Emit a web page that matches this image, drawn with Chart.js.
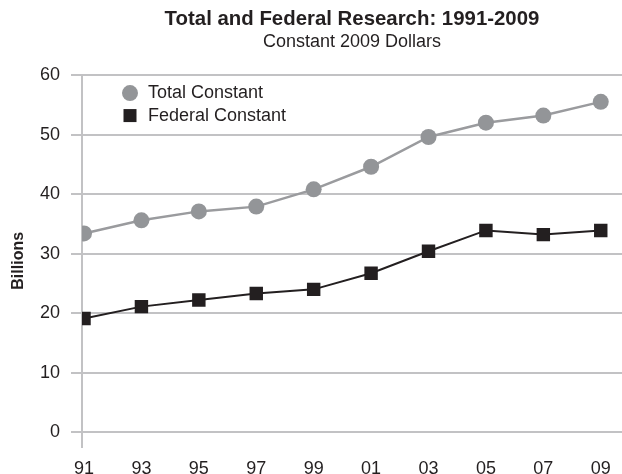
<!DOCTYPE html>
<html>
<head>
<meta charset="utf-8">
<title>Total and Federal Research: 1991-2009</title>
<script src="https://cdn.jsdelivr.net/npm/chart.js@4.4.0/dist/chart.umd.min.js"></script>
<style>
  html, body { margin: 0; padding: 0; background: #fff; }
  #chart { display: block; }
</style>
</head>
<body>
<canvas id="chart" width="622" height="474"></canvas>
<script>
// Fiscal years shown on the x axis
const years = ['91', '93', '95', '97', '99', '01', '03', '05', '07', '09'];
// Billions of constant 2009 dollars
const totalConstant = [33.4, 35.6, 37.1, 37.9, 40.8, 44.6, 49.6, 52.0, 53.2, 55.5];
const federalConstant = [19.1, 21.1, 22.2, 23.3, 24.0, 26.7, 30.4, 33.9, 33.2, 33.9];
const yTicks = [0, 10, 20, 30, 40, 50, 60];

const FONT = "'Liberation Sans', Arial, Helvetica, sans-serif";
const INK = '#231f20';
const GRID = '#c2c2c4';

const toPoints = values => values.map((v, i) => ({ x: i, y: v }));

// Small legend drawn inside the plot, top-left corner
const insideLegend = {
  id: 'insideLegend',
  afterDraw(chart) {
    const { ctx, chartArea } = chart;
    const x = chartArea.left + 48;
    chart.data.datasets.forEach((ds, i) => {
      const y = chartArea.top + 18 + i * 22.5;
      ctx.save();
      ctx.fillStyle = ds.pointBackgroundColor;
      if (ds.pointStyle === 'circle') {
        ctx.beginPath();
        ctx.arc(x, y, 8, 0, Math.PI * 2);
        ctx.fill();
      } else {
        ctx.fillRect(x - 6.5, y - 6.5, 13, 13);
      }
      ctx.fillStyle = INK;
      ctx.font = '18px ' + FONT;
      ctx.textBaseline = 'middle';
      ctx.fillText(ds.label, x + 18, y);
      ctx.restore();
    });
  }
};

new Chart(document.getElementById('chart'), {
  type: 'line',
  data: {
    datasets: [
      {
        label: 'Total Constant',
        data: toPoints(totalConstant),
        borderColor: '#9a9b9e',
        borderWidth: 2.5,
        pointStyle: 'circle',
        pointRadius: 8,
        pointBackgroundColor: '#939598',
        pointBorderWidth: 0,
        tension: 0
      },
      {
        label: 'Federal Constant',
        data: toPoints(federalConstant),
        borderColor: INK,
        borderWidth: 2,
        pointStyle: 'rect',
        pointRadius: 9.5,
        pointBackgroundColor: INK,
        pointBorderWidth: 0,
        tension: 0
      }
    ]
  },
  options: {
    responsive: false,
    animation: false,
    layout: { autoPadding: false, padding: 0 },
    plugins: {
      legend: { display: false },
      tooltip: { enabled: false },
      title: {
        display: true,
        text: 'Total and Federal Research: 1991-2009',
        color: INK,
        fullSize: false,
        font: { family: FONT, size: 20.4, weight: 'bold' },
        padding: { top: 7, bottom: 0 }
      },
      subtitle: {
        display: true,
        text: 'Constant 2009 Dollars',
        color: INK,
        fullSize: false,
        font: { family: FONT, size: 18 },
        padding: { top: 0, bottom: 22 }
      }
    },
    scales: {
      x: {
        type: 'linear',
        min: -0.035,
        max: 9.37,
        afterBuildTicks: scale => {
          scale.ticks = years.map((_, i) => ({ value: i }));
        },
        afterFit: scale => {
          scale.height = 27.5;
          scale.paddingLeft = 0;
          scale.paddingRight = 0;
        },
        ticks: {
          color: INK,
          font: { family: FONT, size: 18 },
          padding: 12,
          maxRotation: 0,
          autoSkip: false,
          callback: value => years[value]
        },
        grid: { display: false, drawTicks: false },
        border: { display: false }
      },
      y: {
        min: -2.4,
        max: 60,
        afterBuildTicks: scale => {
          scale.ticks = yTicks.map(v => ({ value: v }));
        },
        afterFit: scale => {
          scale.width = 82;
        },
        ticks: {
          color: INK,
          font: { family: FONT, size: 18 },
          padding: 11
        },
        grid: {
          color: GRID,
          lineWidth: 2,
          tickLength: 11
        },
        border: { display: true, color: GRID, width: 2 },
        title: {
          display: true,
          text: 'Billions',
          color: INK,
          font: { family: FONT, size: 16, weight: 'bold' },
          padding: { top: 9, bottom: 0 }
        }
      }
    }
  },
  plugins: [insideLegend]
});
</script>
</body>
</html>
